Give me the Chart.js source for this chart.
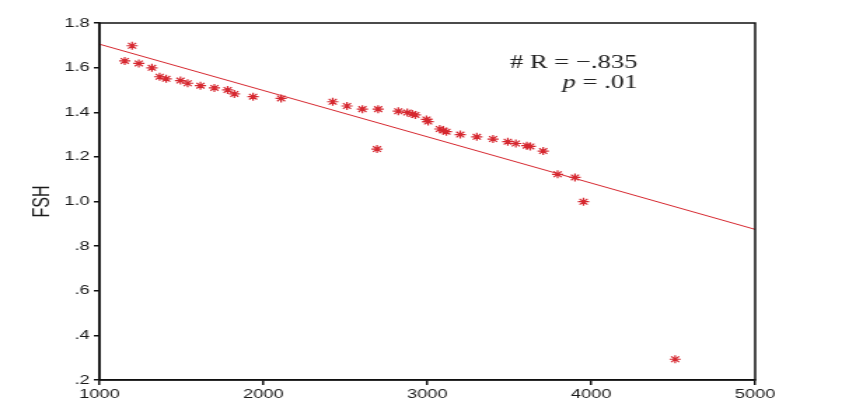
<!DOCTYPE html>
<html>
<head>
<meta charset="utf-8">
<script src="https://cdn.jsdelivr.net/npm/chart.js@4.4.1/dist/chart.umd.min.js"></script>
<style>
  html, body { margin: 0; padding: 0; background: #fff; overflow: hidden; }
  /* the original figure is stretched sideways, so draw narrow and widen it */
  #wrap { width: 611px; height: 412px; transform: scaleX(1.401); transform-origin: 0 0; }
</style>
</head>
<body>
<div id="wrap"><canvas id="fshChart" width="611" height="412"></canvas></div>
<script>
// ===== DATA =====
const pointX = [1154, 1199, 1240, 1320, 1367, 1407, 1494, 1538, 1616, 1701,
  1782, 1823, 1937, 2108, 2423, 2510, 2604, 2700, 2693, 2823,
  2878, 2909, 2927, 2995, 3005, 3076, 3098, 3116, 3201, 3302,
  3401, 3491, 3540, 3607, 3628, 3707, 3795, 3901, 3953, 4512];
const pointY = [1.630, 1.698, 1.619, 1.599, 1.559, 1.550, 1.542, 1.530, 1.519, 1.509,
  1.500, 1.482, 1.470, 1.462, 1.447, 1.428, 1.414, 1.414, 1.235, 1.405,
  1.399, 1.392, 1.388, 1.368, 1.358, 1.325, 1.318, 1.313, 1.300, 1.290,
  1.280, 1.268, 1.260, 1.250, 1.247, 1.226, 1.122, 1.108, 0.999, 0.293];

// fitted line, two ends
const fitX = [1000, 5000];
const fitY = [1.705, 0.875];

const xTicks = [1000, 2000, 3000, 4000, 5000];
const yTicks = [0.2, 0.4, 0.6, 0.8, 1.0, 1.2, 1.4, 1.6, 1.8];

const annotationLines = ["# R = \u2212.835", "p = .01"];

const RED = "rgb(214, 40, 48)";

// ===== PLUGINS =====
const frame = {
  id: "frame",
  afterDraw(chart) {
    const { ctx, chartArea: a } = chart;
    ctx.save();
    ctx.strokeStyle = "#111";
    ctx.lineWidth = 1.5;
    ctx.strokeRect(a.left, a.top, a.right - a.left, a.bottom - a.top);

    // # R = -.835 / p = .01
    const rx = 455;
    ctx.fillStyle = "#222";
    ctx.textAlign = "right";
    ctx.textBaseline = "middle";
    ctx.font = "19px 'Liberation Serif', 'DejaVu Serif', serif";
    ctx.fillText(annotationLines[0], rx, 63);
    // italic p
    const rest = annotationLines[1].slice(1);
    const restW = ctx.measureText(rest).width;
    ctx.fillText(rest, rx, 83);
    ctx.font = "italic 19px 'Liberation Serif', 'DejaVu Serif', serif";
    ctx.fillText(annotationLines[1][0], rx - restW, 83);
    ctx.restore();
  }
};

// ===== CHART =====
window.onload = function () {
  const ctx = document.getElementById("fshChart").getContext("2d");

  new Chart(ctx, {
    type: "scatter",
    data: {
      datasets: [
        {
          label: "FSH",
          data: pointX.map((x, i) => ({ x: x, y: pointY[i] })),
          pointStyle: "star",
          pointRadius: 4,
          pointBorderWidth: 1.2,
          borderColor: RED,
          backgroundColor: RED
        },
        {
          type: "line",
          label: "fit",
          data: fitX.map((x, i) => ({ x: x, y: fitY[i] })),
          borderColor: RED,
          borderWidth: 1,
          pointRadius: 0,
          fill: false
        }
      ]
    },
    options: {
      responsive: false,
      animation: false,
      layout: { padding: { top: 23, right: 72, left: 0, bottom: 0 } },
      plugins: {
        legend: { display: false },
        tooltip: { enabled: false }
      },
      scales: {
        x: {
          type: "linear",
          min: 1000,
          max: 5000,
          afterBuildTicks: s => { s.ticks = xTicks.map(v => ({ value: v })); },
          afterFit: s => { s.height = 32; },
          grid: { drawOnChartArea: false, drawTicks: true, tickLength: 5, color: "#111", lineWidth: 1.5 },
          border: { color: "#111", width: 1.5 },
          ticks: {
            color: "#1a1a1a",
            padding: 2,
            font: { family: "'Liberation Sans', Arial, sans-serif", size: 13 },
            maxRotation: 0,
            autoSkip: false,
            callback: v => String(v)
          }
        },
        y: {
          min: 0.2,
          max: 1.8,
          afterBuildTicks: s => { s.ticks = yTicks.map(v => ({ value: v })); },
          afterFit: s => { s.width = 71; },
          grid: { drawOnChartArea: false, drawTicks: true, tickLength: 4, color: "#111", lineWidth: 1.5 },
          border: { color: "#111", width: 1.5 },
          title: {
            display: true,
            text: "FSH",
            color: "#1a1a1a",
            padding: { top: 21, bottom: 0 },
            font: { family: "'Liberation Sans', Arial, sans-serif", size: 16 }
          },
          ticks: {
            color: "#1a1a1a",
            padding: 3,
            autoSkip: false,
            font: { family: "'Liberation Sans', Arial, sans-serif", size: 13 },
            callback: v => {
              const s = Number(v).toFixed(1);
              return s.startsWith("0") ? s.slice(1) : s;
            }
          }
        }
      }
    },
    plugins: [frame]
  });
};
</script>
</body>
</html>
